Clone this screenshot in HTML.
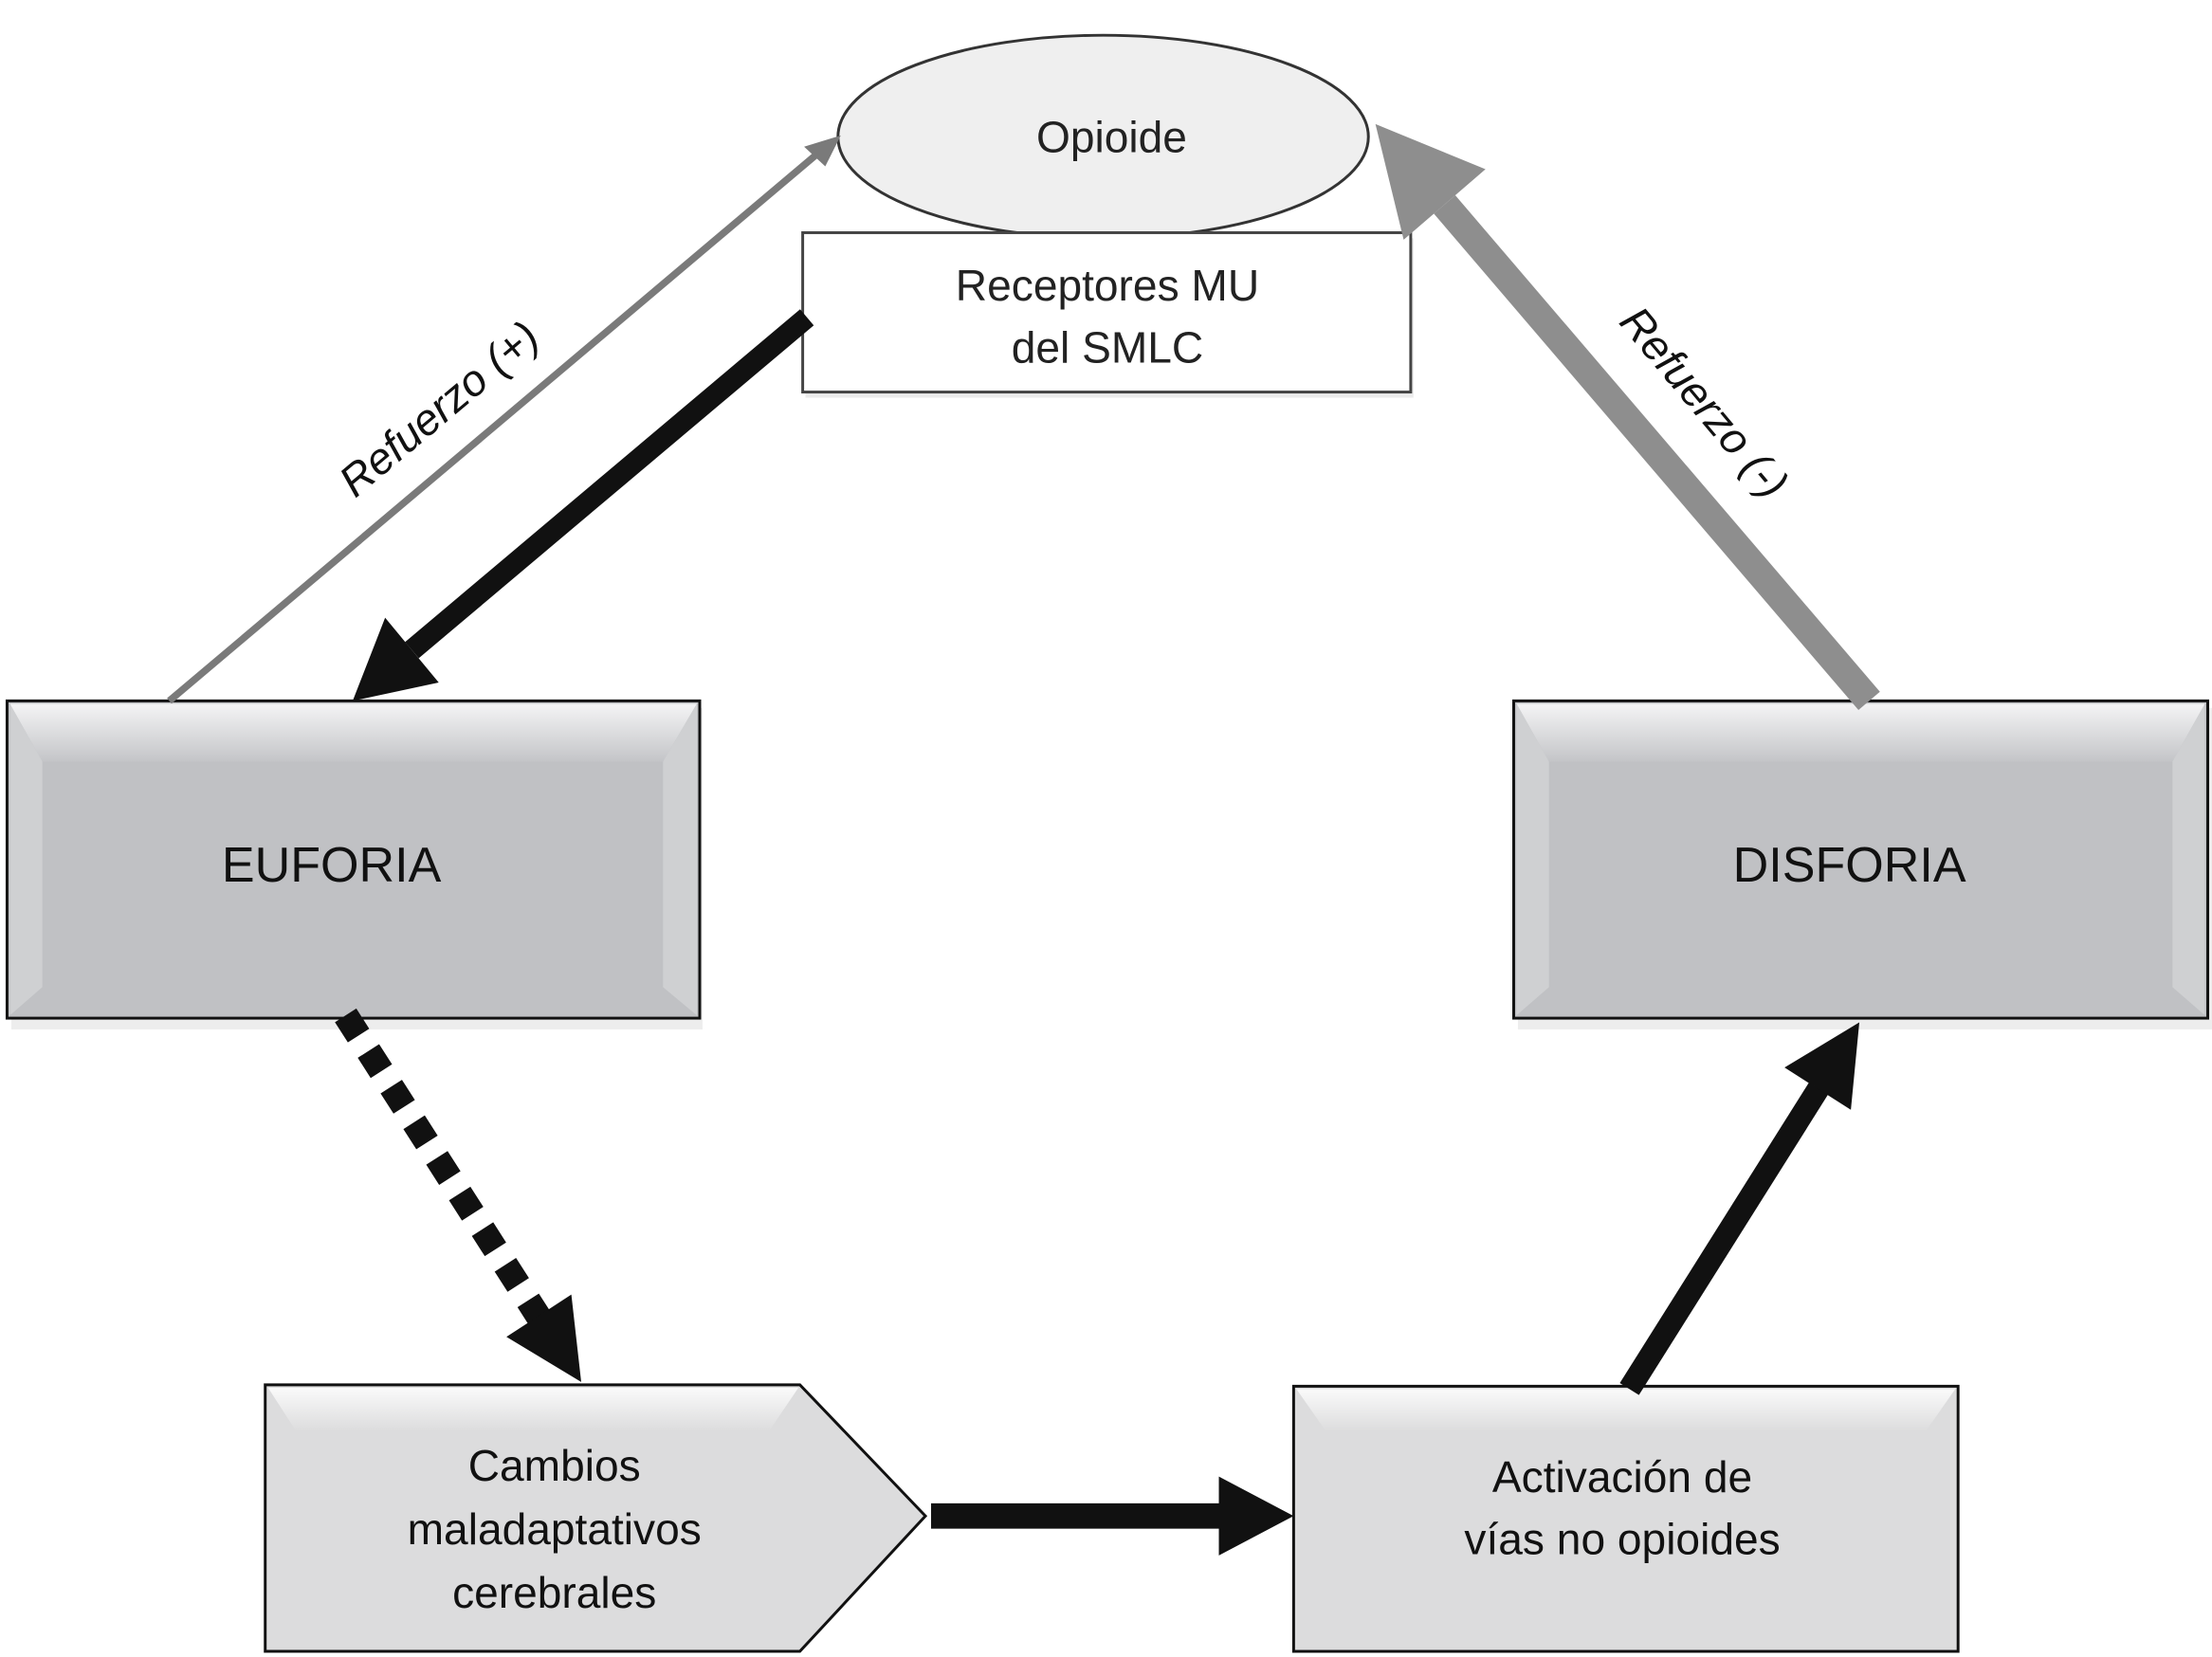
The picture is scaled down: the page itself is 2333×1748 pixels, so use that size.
<!DOCTYPE html>
<html><head><meta charset="utf-8"><style>html,body{margin:0;padding:0;background:#fff}svg{display:block}</style></head>
<body>
<svg width="2333" height="1748" viewBox="0 0 1568 1175" preserveAspectRatio="none" xmlns="http://www.w3.org/2000/svg" font-family="Liberation Sans, sans-serif">
<defs>
<linearGradient id="top" x1="0" y1="0" x2="0" y2="1"><stop offset="0" stop-color="#f4f4f5"/><stop offset="1" stop-color="#c4c5c8"/></linearGradient>
<linearGradient id="topl" x1="0" y1="0" x2="0" y2="1"><stop offset="0" stop-color="#fafafa"/><stop offset="1" stop-color="#dcdcdd"/></linearGradient>
</defs>
<!-- Opioide ellipse -->
<ellipse cx="782" cy="97" rx="188" ry="72" fill="#efefef" stroke="#333" stroke-width="2"/>
<text x="788" y="108" font-size="31" text-anchor="middle" fill="#222">Opioide</text>
<!-- Receptores -->
<rect x="571" y="169" width="431" height="113" fill="#ddd" opacity="0.6"/>
<rect x="569" y="165" width="431" height="113" fill="#fff" stroke="#444" stroke-width="2"/>
<text x="785" y="213" font-size="31" text-anchor="middle" fill="#222">Receptores MU</text>
<text x="785" y="257" font-size="31" text-anchor="middle" fill="#222">del SMLC</text>

<!-- Euforia -->
<rect x="8" y="502" width="490" height="228" fill="#e6e6e6" opacity="0.7"/>
<rect x="5" y="497" width="491" height="225" fill="#c0c1c4" stroke="#111" stroke-width="2"/>
<polygon points="7,499 494,499 470,540 30,540" fill="url(#top)"/>
<polygon points="7,499 30,540 30,700 7,720" fill="#cfd0d2"/>
<polygon points="494,499 470,540 470,700 494,720" fill="#cfd0d2"/>
<text x="235" y="625" font-size="35" text-anchor="middle" fill="#111">EUFORIA</text>
<!-- Disforia -->
<rect x="1076" y="502" width="492" height="228" fill="#e6e6e6" opacity="0.7"/>
<rect x="1073" y="497" width="492" height="225" fill="#c0c1c4" stroke="#111" stroke-width="2"/>
<polygon points="1075,499 1563,499 1540,540 1098,540" fill="url(#top)"/>
<polygon points="1075,499 1098,540 1098,700 1075,720" fill="#cfd0d2"/>
<polygon points="1563,499 1540,540 1540,700 1563,720" fill="#cfd0d2"/>
<text x="1311" y="625" font-size="35" text-anchor="middle" fill="#111">DISFORIA</text>

<!-- Cambios pentagon -->
<polygon points="188,982 567,982 656,1075 567,1171 188,1171" fill="#dcdcdd" stroke="#111" stroke-width="2"/>
<polygon points="190,984 566,984 545,1015 210,1015" fill="url(#topl)"/>
<text x="393" y="1050" font-size="31" text-anchor="middle" fill="#111">Cambios</text>
<text x="393" y="1095" font-size="31" text-anchor="middle" fill="#111">maladaptativos</text>
<text x="393" y="1140" font-size="31" text-anchor="middle" fill="#111">cerebrales</text>
<!-- Activacion -->
<rect x="917" y="983" width="471" height="188" fill="#dcdcdd" stroke="#111" stroke-width="2"/>
<polygon points="919,985 1386,985 1365,1015 940,1015" fill="url(#topl)"/>
<text x="1150" y="1058" font-size="31" text-anchor="middle" fill="#111">Activación de</text>
<text x="1150" y="1102" font-size="31" text-anchor="middle" fill="#111">vías no opioides</text>

<!-- thin gray arrow -->
<line x1="120" y1="497" x2="583" y2="106" stroke="#7a7a7a" stroke-width="5"/>
<polygon points="596,96 570,104 585,118" fill="#7a7a7a"/>
<!-- thick gray arrow -->
<line x1="1325" y1="497" x2="1024" y2="145" stroke="#8e8e8e" stroke-width="20"/>
<polygon points="975,88 995,170 1053,120" fill="#8e8e8e"/>
<!-- black arrow down-left -->
<line x1="572" y1="225" x2="292" y2="461" stroke="#111" stroke-width="15"/>
<polygon points="250,497 311,484 273,438" fill="#111"/>
<!-- dotted arrow -->
<line x1="245" y1="720" x2="382" y2="934" stroke="#111" stroke-width="18" stroke-dasharray="17 13"/>
<polygon points="412,980 405,918 359,948" fill="#111"/>
<!-- horizontal -->
<line x1="660" y1="1075" x2="866" y2="1075" stroke="#111" stroke-width="18"/>
<polygon points="917,1075 864,1047 864,1103" fill="#111"/>
<!-- up-right -->
<line x1="1155" y1="985" x2="1289" y2="772" stroke="#111" stroke-width="16"/>
<polygon points="1318,725 1312,787 1265,757" fill="#111"/>

<!-- labels -->
<text x="0" y="0" font-size="31" font-style="italic" text-anchor="middle" fill="#111" transform="translate(318,298) rotate(-40)">Refuerzo (+)</text>
<text x="0" y="0" font-size="31" font-style="italic" text-anchor="middle" fill="#111" transform="translate(1200,292) rotate(50)">Refuerzo (-)</text>
</svg>
</body></html>
